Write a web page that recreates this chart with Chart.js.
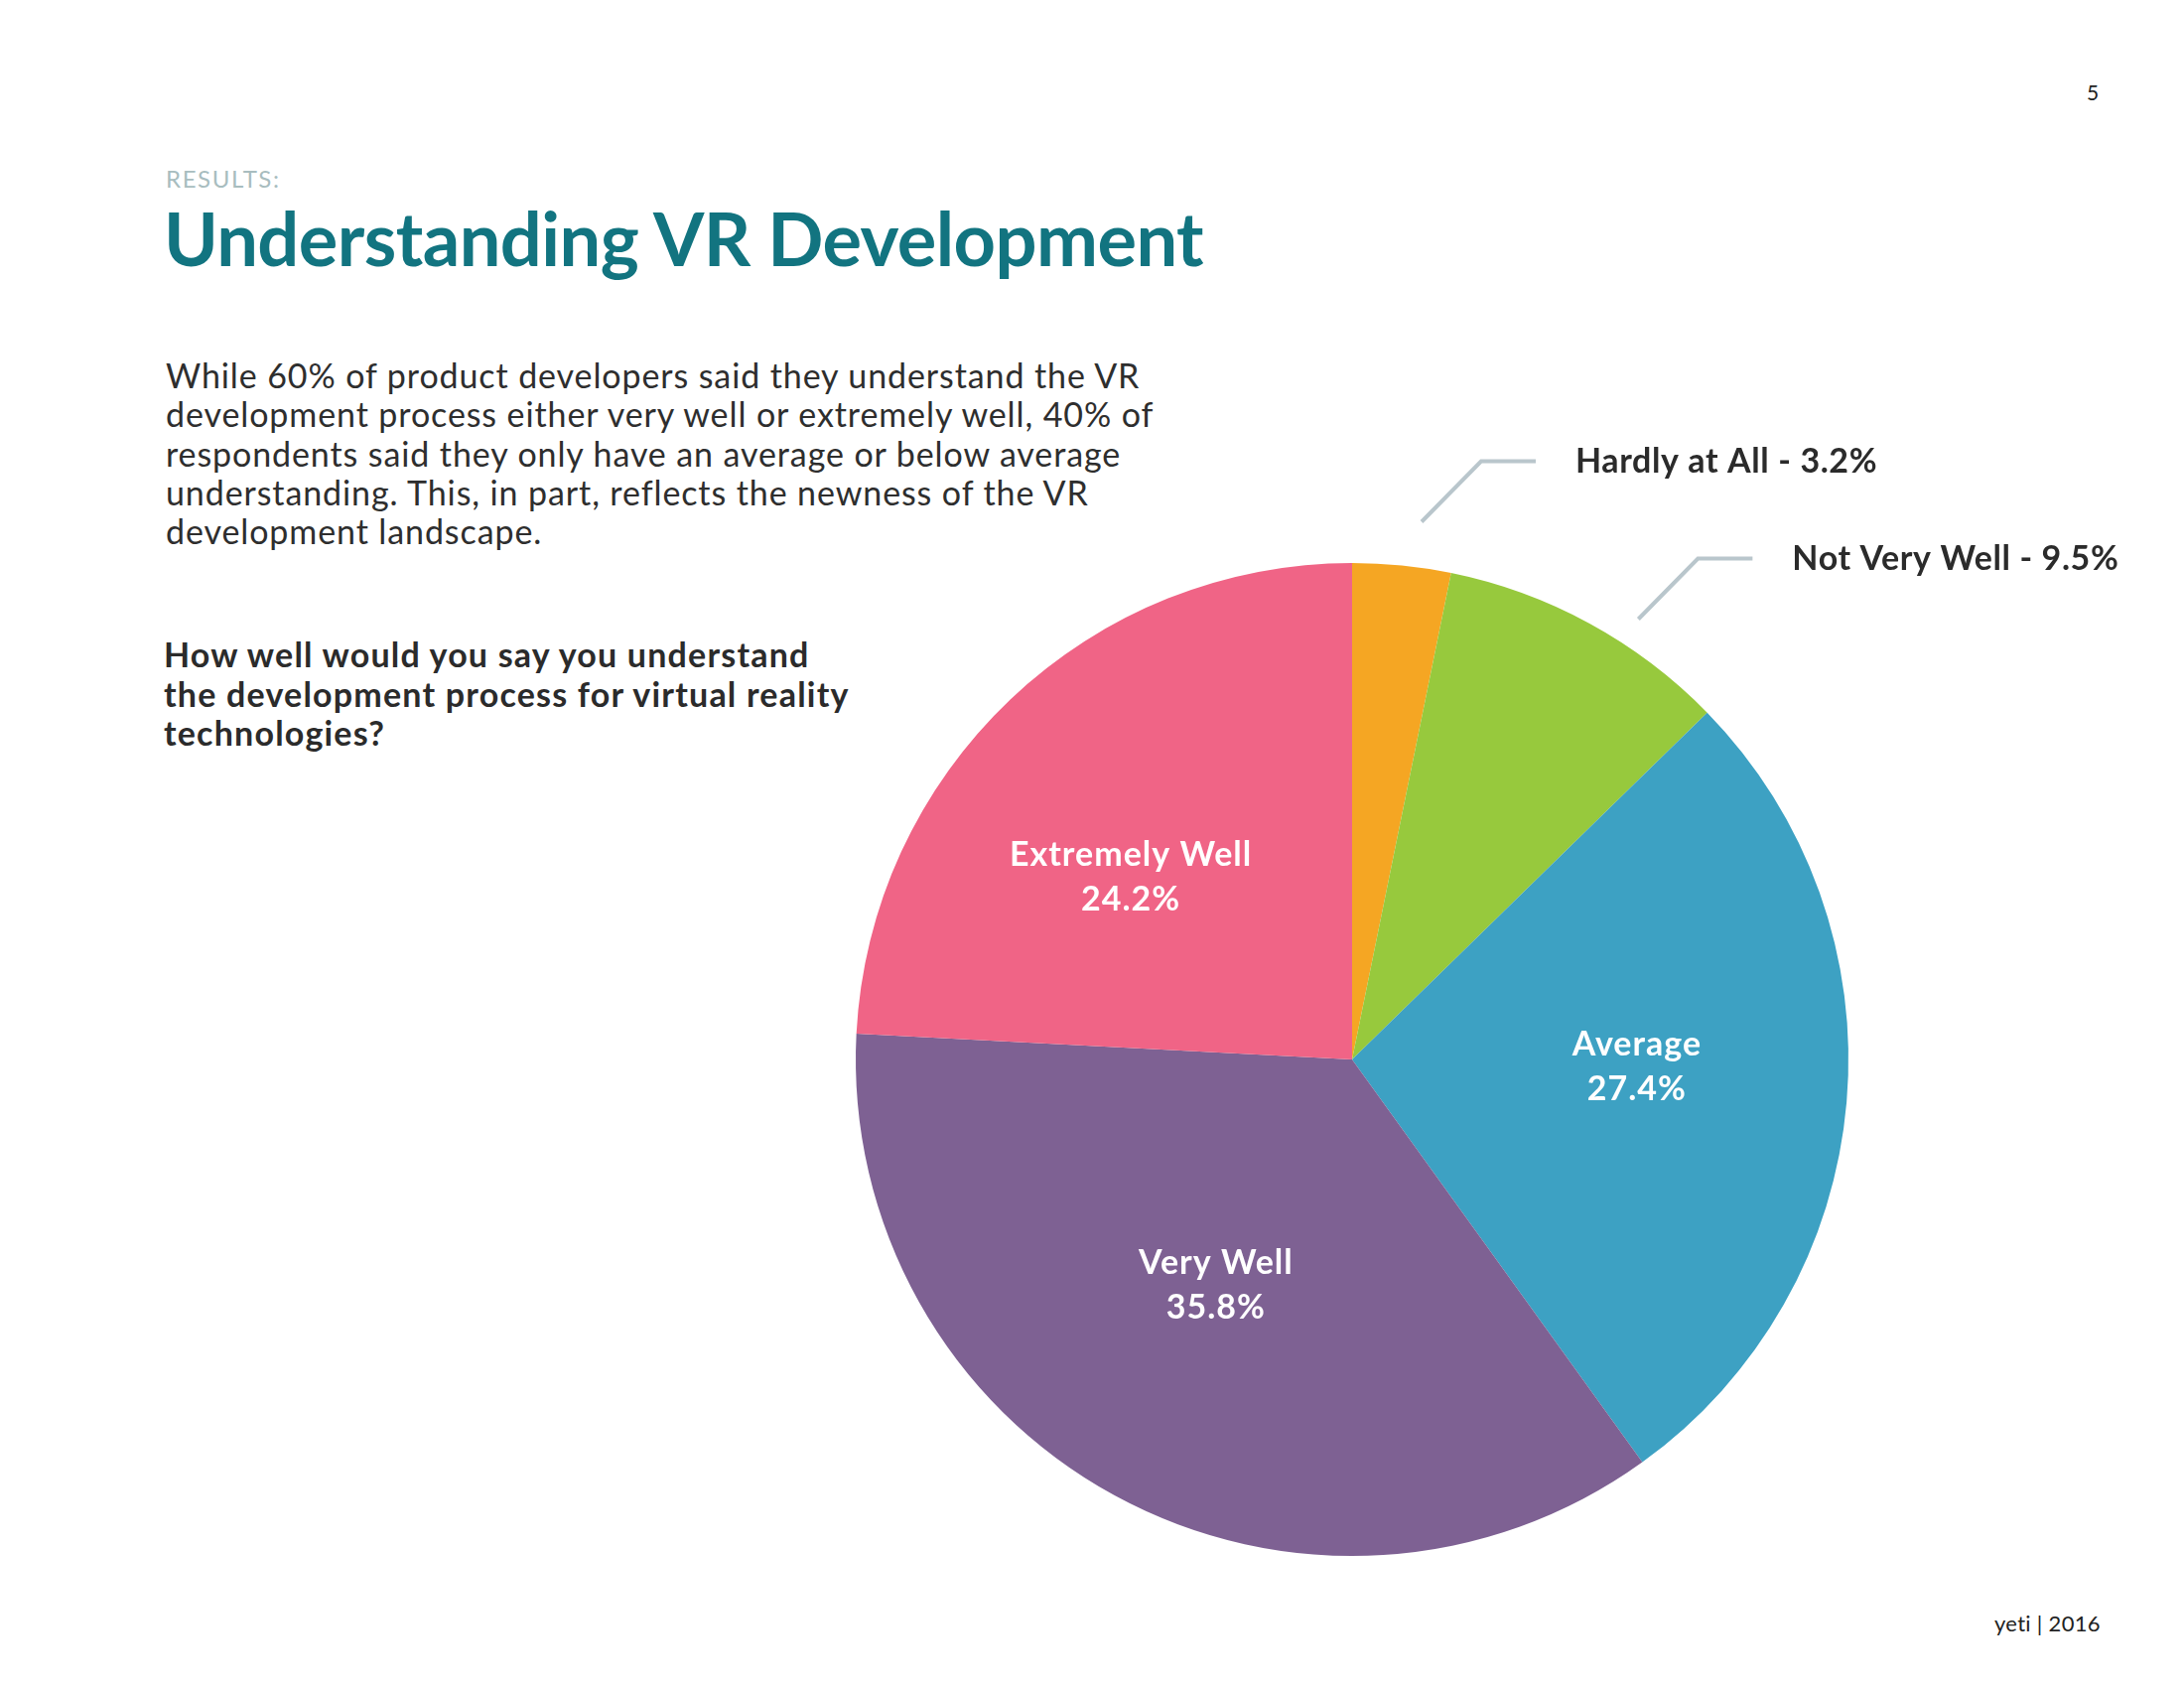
<!DOCTYPE html>
<html>
<head>
<meta charset="utf-8">
<script src="https://cdn.jsdelivr.net/npm/chart.js@4.4.1/dist/chart.umd.min.js"></script>
<style>
  html, body { margin:0; padding:0; background:#fff; }
  body { width:2200px; height:1700px; position:relative; overflow:hidden; font-family: Lato, "Open Sans", sans-serif; }
  .abs { position:absolute; white-space:nowrap; }
  #results { left:167px; top:165px; font-size:24px; color:#A8BDBF; letter-spacing:1.6px; font-weight:400; }
  #title { left:165px; top:195px; font-size:74px; font-weight:700; color:#127480; letter-spacing:-0.55px; }
  #para { left:167px; top:358px; font-size:34px; line-height:39.3px; color:#2e2e2e; letter-spacing:0.9px; }
  #question { left:165px; top:639px; font-size:34px; line-height:39.5px; font-weight:700; color:#2b2b2b; letter-spacing:1.2px; }
  #page { left:2102px; top:80px; font-size:21px; color:#222; }
  #footer { left:2009px; top:1621px; font-size:22px; color:#222; letter-spacing:0.3px; }
  #wrap { position:absolute; left:0; top:0; width:2200px; height:1700px; }
</style>
</head>
<body>
<div class="abs" id="page">5</div>
<div class="abs" id="results">RESULTS:</div>
<div class="abs" id="title">Understanding VR Development</div>
<div class="abs" id="para">While 60% of product developers said they understand the VR<br>development process either very well or extremely well, 40% of<br>respondents said they only have an average or below average<br>understanding. This, in part, reflects the newness of the VR<br>development landscape.</div>
<div class="abs" id="question">How well would you say you understand<br>the development process for virtual reality<br>technologies?</div>
<div class="abs" id="footer">yeti | 2016</div>
<div id="wrap"><canvas id="c"></canvas></div>
<script>
const categories = ["Hardly at All", "Not Very Well", "Average", "Very Well", "Extremely Well"];
const values = [3.2, 9.5, 27.4, 35.8, 24.2];
const valueLabels = ["3.2%", "9.5%", "27.4%", "35.8%", "24.2%"];
const colors = ["#F5A623", "#97C93D", "#3DA1C3", "#7E6193", "#F06486"];
const outsideLabels = [true, true, false, false, false];

// label placement style (per slice): angle fraction within slice, radius factor / extra px
const labelStyle = [
  { frac: 0.64, extra: 46 },
  { frac: 0.63, extra: 29 },
  { frac: 0.465, ratio: 0.574 },
  { frac: 0.52, ratio: 0.53 },
  { frac: 0.42, ratio: 0.578 }
];

const labelPlugin = {
  id: 'sliceLabels',
  afterDatasetsDraw(chart) {
    const ctx = chart.ctx;
    const meta = chart.getDatasetMeta(0);
    ctx.save();
    meta.data.forEach((arc, i) => {
      const p = arc.getProps(['x','y','startAngle','endAngle','outerRadius'], true);
      const st = labelStyle[i];
      const a = p.startAngle + st.frac * (p.endAngle - p.startAngle);
      if (outsideLabels[i]) {
        const r = p.outerRadius + st.extra;
        const sx = p.x + Math.cos(a) * r;
        const sy = p.y + Math.sin(a) * r;
        const ex = sx + 60, ey = sy - 61;
        const hx = ex + 55;
        ctx.strokeStyle = '#B9C6CC';
        ctx.lineWidth = 4;
        ctx.lineCap = 'butt';
        ctx.beginPath();
        ctx.moveTo(sx, sy); ctx.lineTo(ex, ey); ctx.lineTo(hx, ey);
        ctx.stroke();
        ctx.fillStyle = '#2b2b2b';
        ctx.font = '700 34px Lato, sans-serif';
        ctx.letterSpacing = '0.6px';
        ctx.textAlign = 'left';
        ctx.textBaseline = 'middle';
        ctx.fillText(categories[i] + ' - ' + valueLabels[i], hx + 40, ey + 1);
      } else {
        const r = p.outerRadius * st.ratio;
        const cx = p.x + Math.cos(a) * r;
        const cy = p.y + Math.sin(a) * r;
        ctx.fillStyle = '#ffffff';
        ctx.font = '700 34px Lato, sans-serif';
        ctx.letterSpacing = '1px';
        ctx.textAlign = 'center';
        ctx.textBaseline = 'middle';
        ctx.fillText(categories[i], cx, cy - 22);
        ctx.fillText(valueLabels[i], cx, cy + 23);
      }
    });
    ctx.restore();
  }
};

new Chart(document.getElementById('c'), {
  type: 'pie',
  data: {
    labels: categories,
    datasets: [{ data: values, backgroundColor: colors, borderWidth: 0 }]
  },
  options: {
    responsive: true,
    maintainAspectRatio: false,
    animation: false,
    events: [],
    layout: { padding: { left: 862, right: 338, top: 567, bottom: 133 } },
    plugins: { legend: { display: false }, tooltip: { enabled: false } }
  },
  plugins: [labelPlugin]
});
</script>
</body>
</html>
